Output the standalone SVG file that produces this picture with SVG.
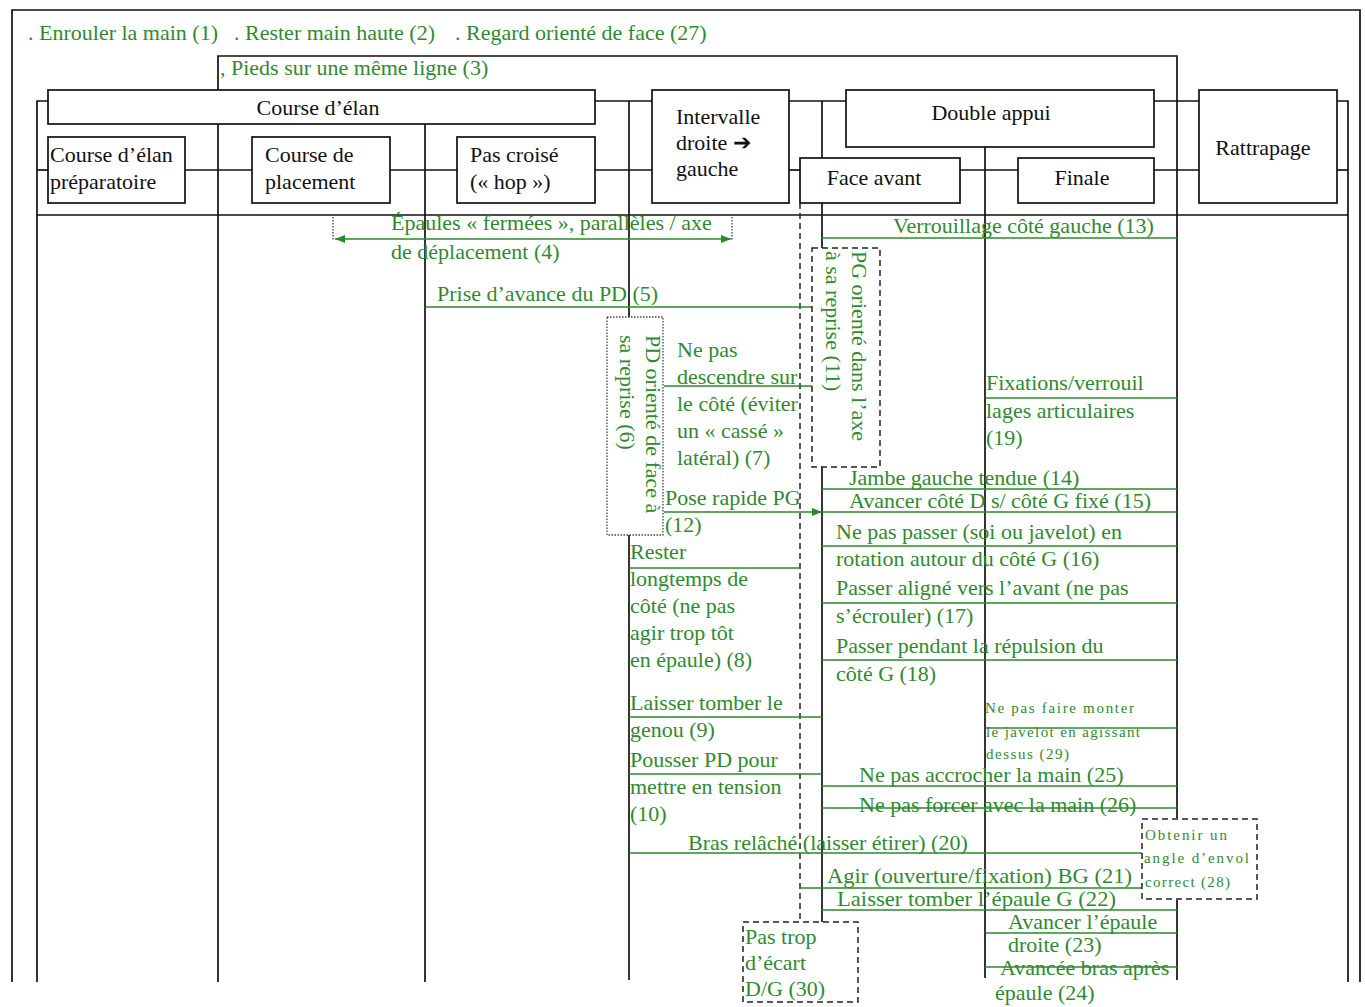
<svg xmlns="http://www.w3.org/2000/svg" width="1365" height="1007" viewBox="0 0 1365 1007">
  <style>
    text { font-family: "Liberation Serif", "Times New Roman", "DejaVu Serif", serif; font-size: 22px; }
    .t { fill: #111; }
    .g { fill: #2f8a2f; }
    .sm { font-size: 15px; }
    .tight { font-size: 21px; }
    .k { stroke: #111; stroke-width: 1.7; fill: none; }
    .box { stroke: #111; stroke-width: 1.7; fill: #fff; }
    .gl { stroke: #2a8a2a; stroke-width: 1.4; fill: none; }
    .dash { stroke: #222; stroke-width: 1.5; stroke-dasharray: 6 4; fill: none; }
    .dashbox { stroke: #222; stroke-width: 1.5; stroke-dasharray: 6 4; fill: #fff; }
    .dot { stroke: #444; stroke-width: 1.3; stroke-dasharray: 1.5 1.5; fill: none; }
    .dotbox { stroke: #444; stroke-width: 1.3; stroke-dasharray: 1.5 1.5; fill: #fff; }
  </style>
  <defs>
    <marker id="ah" viewBox="0 0 10 10" refX="10" refY="5" markerWidth="10" markerHeight="10" markerUnits="userSpaceOnUse" orient="auto-start-reverse">
      <path d="M0,1 L10,5 L0,9 Z" fill="#2a8a2a"/>
    </marker>
  </defs>

  <rect width="1365" height="1007" fill="#fff"/>

  <!-- frame, columns and linking lines -->
  <g id="connectors">
    <polyline class="k" points="12,982 12,10 1360,10 1360,982"/>
    <polyline class="k" points="218,982 218,56 1177,56 1177,818"/>
    <line class="k" x1="1177" y1="900" x2="1177" y2="980"/>
    <polyline class="k" points="37,982 37,101 48,101"/>
    <polyline class="k" points="1337,101 1348,101 1348,982"/>
    <line class="k" x1="595" y1="101" x2="652" y2="101"/>
    <line class="k" x1="789" y1="101" x2="846" y2="101"/>
    <line class="k" x1="1154" y1="101" x2="1199" y2="101"/>
    <line class="k" x1="37" y1="170" x2="48" y2="170"/>
    <line class="k" x1="185" y1="170" x2="252" y2="170"/>
    <line class="k" x1="390" y1="170" x2="457" y2="170"/>
    <line class="k" x1="595" y1="170" x2="652" y2="170"/>
    <line class="k" x1="789" y1="170" x2="800" y2="170"/>
    <line class="k" x1="960" y1="170" x2="1018" y2="170"/>
    <line class="k" x1="1154" y1="170" x2="1199" y2="170"/>
    <line class="k" x1="1337" y1="170" x2="1348" y2="170"/>
    <line class="k" x1="37" y1="215" x2="1348" y2="215"/>
    <line class="k" x1="425" y1="124" x2="425" y2="982"/>
    <line class="k" x1="629" y1="101" x2="629" y2="980"/>
    <line class="k" x1="822" y1="101" x2="822" y2="248"/>
    <line class="k" x1="822" y1="467" x2="822" y2="922"/>
    <line class="k" x1="985" y1="147" x2="985" y2="978"/>
    <line class="dash" x1="800" y1="203" x2="800" y2="920"/>

    <!-- green annotation lines -->
    <line class="dot" x1="333" y1="217" x2="333" y2="240"/>
    <line class="dot" x1="732" y1="217" x2="732" y2="240"/>
    <line class="gl" x1="335" y1="239" x2="731" y2="239" marker-start="url(#ah)" marker-end="url(#ah)"/>
    <line class="gl" x1="822" y1="238" x2="1177" y2="238"/>
    <line class="gl" x1="425" y1="307" x2="812" y2="307"/>
    <line class="gl" x1="664" y1="386" x2="812" y2="386"/>
    <line class="gl" x1="985" y1="398" x2="1177" y2="398"/>
    <line class="gl" x1="822" y1="489" x2="1177" y2="489"/>
    <line class="gl" x1="664" y1="512" x2="822" y2="512" marker-end="url(#ah)"/>
    <line class="gl" x1="822" y1="512" x2="1177" y2="512"/>
    <line class="gl" x1="822" y1="546" x2="1177" y2="546"/>
    <line class="gl" x1="629" y1="568" x2="800" y2="568"/>
    <line class="gl" x1="822" y1="603" x2="1177" y2="603"/>
    <line class="gl" x1="822" y1="660" x2="1177" y2="660"/>
    <line class="gl" x1="629" y1="717" x2="822" y2="717"/>
    <line class="gl" x1="985" y1="728" x2="1177" y2="728"/>
    <line class="gl" x1="629" y1="774" x2="822" y2="774"/>
    <line class="gl" x1="822" y1="786" x2="1177" y2="786"/>
    <line class="gl" x1="822" y1="808" x2="1177" y2="808"/>
    <line class="gl" x1="629" y1="853" x2="1142" y2="853"/>
    <line class="gl" x1="800" y1="888" x2="1142" y2="888"/>
    <line class="gl" x1="822" y1="910" x2="1177" y2="910"/>
    <line class="gl" x1="985" y1="933" x2="1177" y2="933"/>
    <line class="gl" x1="985" y1="967" x2="1177" y2="967"/>
  </g>

  <!-- phase boxes -->
  <g id="course-elan">
    <rect class="box" x="48" y="90" width="547" height="34"/>
    <text class="t" x="318" y="115" text-anchor="middle">Course d’élan</text>
  </g>
  <g id="course-preparatoire">
    <rect class="box" x="48" y="137" width="137" height="66"/>
    <text class="t" x="50" y="162">Course d’élan</text>
    <text class="t" x="50" y="189">préparatoire</text>
  </g>
  <g id="course-placement">
    <rect class="box" x="252" y="137" width="138" height="66"/>
    <text class="t" x="265" y="162">Course de</text>
    <text class="t" x="265" y="189">placement</text>
  </g>
  <g id="pas-croise">
    <rect class="box" x="457" y="137" width="138" height="66"/>
    <text class="t" x="470" y="162">Pas croisé</text>
    <text class="t" x="470" y="189">(« hop »)</text>
  </g>
  <g id="intervalle">
    <rect class="box" x="652" y="90" width="137" height="113"/>
    <text class="t" x="676" y="124">Intervalle</text>
    <text class="t" x="676" y="150">droite ➔</text>
    <text class="t" x="676" y="176">gauche</text>
  </g>
  <g id="double-appui">
    <rect class="box" x="846" y="90" width="308" height="57"/>
    <text class="t" x="991" y="120" text-anchor="middle">Double appui</text>
  </g>
  <g id="face-avant">
    <rect class="box" x="800" y="158" width="160" height="45"/>
    <text class="t" x="874" y="185" text-anchor="middle">Face avant</text>
  </g>
  <g id="finale">
    <rect class="box" x="1018" y="158" width="136" height="45"/>
    <text class="t" x="1082" y="185" text-anchor="middle">Finale</text>
  </g>
  <g id="rattrapage">
    <rect class="box" x="1199" y="90" width="138" height="113"/>
    <text class="t" x="1263" y="155" text-anchor="middle">Rattrapage</text>
  </g>

  <!-- framed notes -->
  <g id="note-6">
    <rect class="dotbox" x="607" y="317" width="56" height="218"/>
    <text class="g" transform="translate(646,335) rotate(90)">PD orienté de face à</text>
    <text class="g" transform="translate(620,335) rotate(90)">sa reprise (6)</text>
  </g>
  <g id="note-11">
    <rect class="dashbox" x="812" y="248" width="68" height="219"/>
    <text class="g" transform="translate(852,251) rotate(90)">PG orienté dans l’axe</text>
    <text class="g" transform="translate(826,251) rotate(90)">à sa reprise (11)</text>
  </g>
  <g id="note-28">
    <rect class="dashbox" x="1142" y="819" width="115" height="80"/>
    <text class="g sm" x="1145" y="840" textLength="82" lengthAdjust="spacing">Obtenir un</text>
    <text class="g sm" x="1144" y="863" textLength="105" lengthAdjust="spacing">angle d’envol</text>
    <text class="g sm" x="1145" y="887" textLength="85" lengthAdjust="spacing">correct (28)</text>
  </g>
  <g id="note-30">
    <rect class="dashbox" x="743" y="922" width="115" height="80"/>
    <text class="g" x="745" y="944">Pas trop</text>
    <text class="g" x="745" y="970">d’écart</text>
    <text class="g" x="745" y="996">D/G (30)</text>
  </g>

  <!-- criteria -->
  <g id="criteria-top">
    <text class="g" x="28" y="40">. Enrouler la main (1)</text>
    <text class="g" x="234" y="40">. Rester main haute (2)</text>
    <text class="g" x="455" y="40">. Regard orienté de face (27)</text>
    <text class="g" x="220" y="75">, Pieds sur une même ligne (3)</text>
  </g>
  <g id="criteria-run">
    <text class="g" x="391" y="230">Épaules « fermées », parallèles / axe</text>
    <text class="g" x="391" y="259">de déplacement (4)</text>
    <text class="g" x="437" y="301">Prise d’avance du PD (5)</text>
  </g>
  <g id="criteria-interval">
    <text class="g" x="677" y="357">Ne pas</text>
    <text class="g" x="677" y="384">descendre sur</text>
    <text class="g" x="677" y="411">le côté (éviter</text>
    <text class="g" x="677" y="438">un « cassé »</text>
    <text class="g" x="677" y="465">latéral) (7)</text>
    <text class="g" x="665" y="505">Pose rapide PG</text>
    <text class="g" x="665" y="532">(12)</text>
    <text class="g" x="630" y="559">Rester</text>
    <text class="g" x="630" y="586">longtemps de</text>
    <text class="g" x="630" y="613">côté (ne pas</text>
    <text class="g" x="630" y="640">agir trop tôt</text>
    <text class="g" x="630" y="667">en épaule) (8)</text>
    <text class="g" x="630" y="710">Laisser tomber le</text>
    <text class="g" x="630" y="737">genou (9)</text>
    <text class="g" x="630" y="767">Pousser PD pour</text>
    <text class="g" x="630" y="794">mettre en tension</text>
    <text class="g" x="630" y="821">(10)</text>
  </g>
  <g id="criteria-double-support">
    <text class="g" x="893" y="233">Verrouillage côté gauche (13)</text>
    <text class="g" x="986" y="390">Fixations/verrouil</text>
    <text class="g" x="986" y="418">lages articulaires</text>
    <text class="g" x="986" y="445">(19)</text>
    <text class="g" x="849" y="485">Jambe gauche tendue (14)</text>
    <text class="g" x="849" y="508">Avancer côté D s/ côté G fixé (15)</text>
    <text class="g" x="836" y="539">Ne pas passer (soi ou javelot) en</text>
    <text class="g" x="836" y="566">rotation autour du côté G (16)</text>
    <text class="g" x="836" y="595">Passer aligné vers l’avant (ne pas</text>
    <text class="g" x="836" y="623">s’écrouler) (17)</text>
    <text class="g" x="836" y="653">Passer pendant la répulsion du</text>
    <text class="g" x="836" y="681">côté G (18)</text>
    <text class="g sm" x="985" y="713" textLength="149" lengthAdjust="spacing">Ne pas faire monter</text>
    <text class="g sm" x="986" y="737" textLength="154" lengthAdjust="spacing">le javelot en agissant</text>
    <text class="g sm" x="986" y="759" textLength="83" lengthAdjust="spacing">dessus (29)</text>
    <text class="g" x="859" y="782">Ne pas accrocher la main (25)</text>
    <text class="g" x="859" y="812">Ne pas forcer avec la main (26)</text>
    <text class="g" x="688" y="850">Bras relâché (laisser étirer) (20)</text>
    <text class="g tight" x="827" y="883" textLength="305" lengthAdjust="spacingAndGlyphs">Agir (ouverture/fixation) BG (21)</text>
    <text class="g tight" x="837" y="906" textLength="279" lengthAdjust="spacingAndGlyphs">Laisser tomber l’épaule G (22)</text>
    <text class="g" x="1008" y="929">Avancer l’épaule</text>
    <text class="g" x="1008" y="952">droite (23)</text>
    <text class="g" x="1000" y="975">Avancée bras après</text>
    <text class="g" x="995" y="1000">épaule (24)</text>
  </g>
</svg>
